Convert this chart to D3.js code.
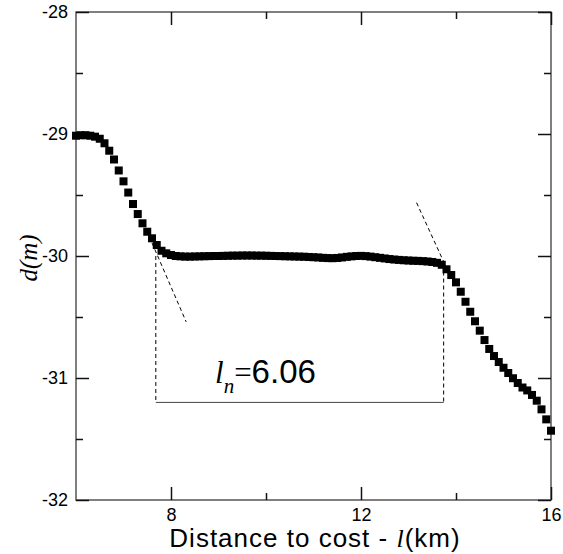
<!DOCTYPE html>
<html>
<head>
<meta charset="utf-8">
<script src="https://cdn.jsdelivr.net/npm/d3@7"></script>
<style>
  html, body { margin: 0; padding: 0; background: #fff; }
  svg { display: block; }
</style>
</head>
<body>
<svg id="chart" width="563" height="554"></svg>
<script>
// Distance along the profile (km)
const distance = [
  6.0, 6.1, 6.2, 6.3, 6.4, 6.5, 6.6, 6.7, 6.8, 6.9,
  7.0, 7.1, 7.2, 7.3, 7.4, 7.5, 7.6, 7.7, 7.8, 7.9,
  8.0, 8.1, 8.2, 8.3, 8.4, 8.5, 8.6, 8.7, 8.8, 8.9,
  9.0, 9.1, 9.2, 9.3, 9.4, 9.5, 9.6, 9.7, 9.8, 9.9,
  10.0, 10.1, 10.2, 10.3, 10.4, 10.5, 10.6, 10.7, 10.8, 10.9,
  11.0, 11.1, 11.2, 11.3, 11.4, 11.5, 11.6, 11.7, 11.8, 11.9,
  12.0, 12.1, 12.2, 12.3, 12.4, 12.5, 12.6, 12.7, 12.8, 12.9,
  13.0, 13.1, 13.2, 13.3, 13.4, 13.5, 13.6, 13.7, 13.8, 13.9,
  14.0, 14.1, 14.2, 14.3, 14.4, 14.5, 14.6, 14.7, 14.8, 14.9,
  15.0, 15.1, 15.2, 15.3, 15.4, 15.5, 15.6, 15.7, 15.8, 15.9,
  16.0
];

// Depth d (m) at each distance
const depth = [
  -29.014, -29.010, -29.010, -29.014, -29.022, -29.039, -29.076, -29.137, -29.209, -29.299,
  -29.388, -29.480, -29.574, -29.656, -29.732, -29.801, -29.855, -29.910, -29.957, -29.978,
  -29.992, -30.000, -30.003, -30.005, -30.005, -30.004, -30.003, -30.002, -30.001, -30.000,
  -30.000, -29.999, -29.998, -29.997, -29.997, -29.996, -29.996, -29.996, -29.997, -29.997,
  -29.998, -29.999, -30.000, -30.001, -30.002, -30.003, -30.004, -30.005, -30.006, -30.008,
  -30.010, -30.012, -30.015, -30.017, -30.018, -30.016, -30.012, -30.007, -30.003, -30.000,
  -29.999, -30.001, -30.005, -30.010, -30.015, -30.020, -30.025, -30.029, -30.032, -30.035,
  -30.037, -30.039, -30.040, -30.042, -30.045, -30.049, -30.056, -30.072, -30.109, -30.156,
  -30.216, -30.293, -30.375, -30.457, -30.535, -30.612, -30.689, -30.762, -30.820, -30.869,
  -30.916, -30.959, -31.002, -31.041, -31.078, -31.102, -31.139, -31.186, -31.257, -31.339,
  -31.432
];

// Axis ticks
const xMajorTicks = [8, 12, 16];
const xTickLabels = ["8", "12", "16"];
const xMinorTicks = [10, 14];
const yMajorTicks = [-32, -31, -30, -29, -28];
const yTickLabels = ["-32", "-31", "-30", "-29", "-28"];
const yMinorTicks = [-31.5, -30.5, -29.5, -28.5];

// Flat-segment annotation: bounds, tangents and bracket level
const segmentStart = 7.68;
const segmentEnd = 13.74;
const bracketLevel = -31.2;
const segmentTopDepth = [-30.00, -30.07];
const leftTangent = [[7.60, -29.893], [8.32, -30.54]];
const rightTangent = [[13.17, -29.563], [13.78, -30.08]];

const W = 563, H = 554;
const margin = { left: 76, right: 12, top: 12, bottom: 54 };
const svg = d3.select("#chart");
svg.append("rect").attr("width", W).attr("height", H).attr("fill", "#fff");

const x = d3.scaleLinear().domain([6, 16]).range([margin.left, W - margin.right]);
const y = d3.scaleLinear().domain([-32, -28]).range([H - margin.bottom, margin.top]);

const plotW = x.range()[1] - x.range()[0];
const plotH = y.range()[0] - y.range()[1];
const sansFont = "Arial, 'Liberation Sans', sans-serif";
const serifFont = "'Times New Roman', 'Liberation Serif', serif";

// Frame
svg.append("rect")
  .attr("x", x.range()[0]).attr("y", y.range()[1])
  .attr("width", plotW).attr("height", plotH)
  .attr("fill", "none").attr("stroke", "#555").attr("stroke-width", 1.5);

function styleAxis(g) {
  g.select(".domain").remove();
  g.selectAll(".tick line").attr("stroke", "#111").attr("stroke-width", 1.5);
  g.selectAll(".tick text").attr("font-family", sansFont).attr("font-size", 18).attr("fill", "#000");
}

// Bottom axis with labels, inward ticks
svg.append("g")
  .attr("transform", `translate(0,${y.range()[0]})`)
  .call(d3.axisBottom(x).tickValues(xMajorTicks).tickSize(-13).tickPadding(8)
    .tickFormat((d, i) => xTickLabels[i]))
  .call(styleAxis);
svg.append("g")
  .attr("transform", `translate(0,${y.range()[0]})`)
  .call(d3.axisBottom(x).tickValues(xMinorTicks).tickSize(-7).tickFormat(""))
  .call(styleAxis);
// Top axis (ticks only)
svg.append("g")
  .attr("transform", `translate(0,${y.range()[1]})`)
  .call(d3.axisTop(x).tickValues(xMajorTicks).tickSize(-13).tickFormat(""))
  .call(styleAxis);
svg.append("g")
  .attr("transform", `translate(0,${y.range()[1]})`)
  .call(d3.axisTop(x).tickValues(xMinorTicks).tickSize(-7).tickFormat(""))
  .call(styleAxis);

// Left axis with labels
svg.append("g")
  .attr("transform", `translate(${x.range()[0]},0)`)
  .call(d3.axisLeft(y).tickValues(yMajorTicks).tickSize(-13).tickPadding(8)
    .tickFormat((d, i) => yTickLabels[i]))
  .call(styleAxis);
svg.append("g")
  .attr("transform", `translate(${x.range()[0]},0)`)
  .call(d3.axisLeft(y).tickValues(yMinorTicks).tickSize(-7).tickFormat(""))
  .call(styleAxis);
// Right axis (ticks only)
svg.append("g")
  .attr("transform", `translate(${x.range()[1]},0)`)
  .call(d3.axisRight(y).tickValues(yMajorTicks).tickSize(-13).tickFormat(""))
  .call(styleAxis);
svg.append("g")
  .attr("transform", `translate(${x.range()[1]},0)`)
  .call(d3.axisRight(y).tickValues(yMinorTicks).tickSize(-7).tickFormat(""))
  .call(styleAxis);

// Axis titles
const xTitle = svg.append("text")
  .attr("x", 315).attr("y", 547)
  .attr("text-anchor", "middle")
  .attr("font-family", sansFont).attr("font-size", 26)
  .attr("letter-spacing", 1).attr("fill", "#000");
xTitle.append("tspan").text("Distance to cost - ");
xTitle.append("tspan").attr("font-family", serifFont).attr("font-style", "italic").text("l");
xTitle.append("tspan").text("(km)");

svg.append("text")
  .attr("transform", "translate(37,258) rotate(-90)")
  .attr("text-anchor", "middle")
  .attr("font-family", serifFont).attr("font-style", "italic")
  .attr("font-size", 25).attr("fill", "#000")
  .text("d(m)");

// Annotation: tangents and bracket
const line = d3.line().x(d => x(d[0])).y(d => y(d[1]));
const ann = svg.append("g").attr("fill", "none");
[leftTangent, rightTangent].forEach(t => {
  ann.append("path").attr("d", line(t))
    .attr("stroke", "#000").attr("stroke-width", 1).attr("stroke-dasharray", "4,3");
});
ann.append("path")
  .attr("d", line([[segmentStart, segmentTopDepth[0]], [segmentStart, bracketLevel]]))
  .attr("stroke", "#000").attr("stroke-width", 1).attr("stroke-dasharray", "4,3");
ann.append("path")
  .attr("d", line([[segmentEnd, segmentTopDepth[1]], [segmentEnd, bracketLevel]]))
  .attr("stroke", "#000").attr("stroke-width", 1).attr("stroke-dasharray", "4,3");
ann.append("path")
  .attr("d", line([[segmentStart, bracketLevel], [segmentEnd, bracketLevel]]))
  .attr("stroke", "#444").attr("stroke-width", 1);

// Segment length label
const lbl = svg.append("text")
  .attr("x", 215).attr("y", 383)
  .attr("font-size", 31).attr("fill", "#000");
lbl.append("tspan").attr("font-family", serifFont).attr("font-style", "italic").text("l");
lbl.append("tspan").attr("font-family", serifFont).attr("font-style", "italic")
  .attr("font-size", 21).attr("dy", 10).text("n");
lbl.append("tspan").attr("font-family", serifFont).attr("dy", -10).text("=");
lbl.append("tspan").attr("font-family", sansFont).attr("font-size", 33)
  .text((segmentEnd - segmentStart).toFixed(2));

// Data markers
const size = 8;
svg.append("g")
  .selectAll("rect")
  .data(distance.map((d, i) => [d, depth[i]]))
  .join("rect")
  .attr("x", d => x(d[0]) - size / 2)
  .attr("y", d => y(d[1]) - size / 2)
  .attr("width", size).attr("height", size)
  .attr("fill", "#000");
</script>
</body>
</html>
